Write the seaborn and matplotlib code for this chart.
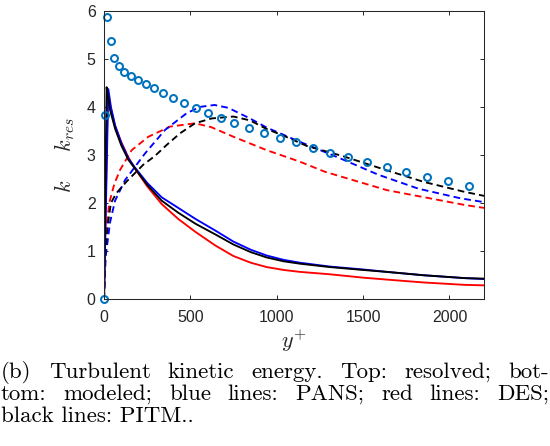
import numpy as np
import pandas as pd
import matplotlib
matplotlib.use("Agg")
import matplotlib.pyplot as plt
import seaborn as sns

# ---------------- data ----------------
# reference points (circles): resolved k
ref_x = [0, 6, 20, 39, 59, 87, 118, 154, 195, 242, 290, 343, 402, 465, 532, 603,
         676, 755, 838, 925, 1017, 1112, 1210, 1309, 1415, 1522, 1636, 1751, 1869,
         1989, 2113]
ref_y = [0.0, 3.83, 5.86, 5.36, 5.01, 4.84, 4.73, 4.64, 4.56, 4.48, 4.39, 4.28, 4.19,
         4.09, 3.98, 3.87, 3.77, 3.67, 3.56, 3.46, 3.35, 3.26, 3.15, 3.04, 2.95, 2.85,
         2.75, 2.65, 2.55, 2.45, 2.35]

# resolved (dashed)
des_res_x = [0, 5, 15, 30, 60, 93, 160, 257, 382, 527, 620, 749, 942, 1135, 1280,
             1637, 2090, 2200]
des_res_y = [0.0, 1.0, 1.51, 2.0, 2.4, 2.69, 3.10, 3.38, 3.59, 3.66, 3.58, 3.38, 3.10,
             2.86, 2.65, 2.27, 1.96, 1.90]

pans_res_x = [0, 10, 35, 64, 122, 237, 353, 479, 556, 640, 720, 845, 942, 1110, 1300,
              1374, 1588, 1820, 2063, 2200]
pans_res_y = [0.0, 0.9, 1.6, 2.05, 2.48, 3.03, 3.52, 3.87, 4.0, 4.04, 3.98, 3.76, 3.57,
              3.31, 3.03, 2.92, 2.59, 2.30, 2.10, 2.02]

pitm_res_x = [0, 8, 20, 40, 70, 131, 228, 295, 363, 440, 527, 623, 749, 845, 942, 1040,
              1173, 1389, 1621, 1852, 2080, 2200]
pitm_res_y = [0.0, 1.0, 1.5, 2.0, 2.2, 2.45, 2.80, 2.98, 3.21, 3.45, 3.66, 3.76, 3.80,
              3.72, 3.54, 3.40, 3.19, 2.97, 2.70, 2.44, 2.24, 2.15]

# modeled (solid)
des_mod_x = [0, 22, 40, 64, 100, 141, 179, 250, 334, 430, 530, 644, 749, 850, 942, 1040,
             1135, 1308, 1500, 1637, 1850, 2090, 2200]
des_mod_y = [0.0, 4.33, 3.95, 3.6, 3.27, 2.95, 2.72, 2.35, 1.98, 1.67, 1.40, 1.12, 0.90,
             0.76, 0.67, 0.61, 0.57, 0.52, 0.45, 0.41, 0.35, 0.30, 0.29]

pans_mod_x = [0, 25, 40, 64, 100, 141, 179, 250, 334, 430, 530, 644, 749, 850, 942, 1040,
              1135, 1308, 1500, 1637, 1850, 2090, 2200]
pans_mod_y = [0.0, 4.37, 4.0, 3.62, 3.25, 2.93, 2.74, 2.42, 2.12, 1.90, 1.67, 1.43, 1.20,
              1.03, 0.91, 0.82, 0.76, 0.68, 0.62, 0.57, 0.50, 0.44, 0.42]

pitm_mod_x = [0, 15, 25, 35, 64, 100, 141, 179, 250, 334, 430, 530, 644, 749, 850, 942,
              1040, 1135, 1308, 1500, 1637, 1850, 2090, 2200]
pitm_mod_y = [0.0, 4.41, 4.2, 3.94, 3.55, 3.2, 2.90, 2.72, 2.38, 2.05, 1.80, 1.57, 1.35,
              1.14, 0.98, 0.87, 0.79, 0.74, 0.67, 0.61, 0.57, 0.50, 0.44, 0.43]

x_ticks = [0, 500, 1000, 1500, 2000]
y_ticks = [0, 1, 2, 3, 4, 5, 6]

caption = ["(b) Turbulent kinetic energy.  Top: resolved; bot-",
           "tom: modeled; blue lines: PANS; red lines: DES;",
           "black lines: PITM.."]

# ---------------- style ----------------
sns.set_style("ticks")
plt.rcParams["font.family"] = ["Liberation Sans", "DejaVu Sans"]
plt.rcParams["mathtext.fontset"] = "cm"

W, H = 550, 446
fig = plt.figure(figsize=(W / 100, H / 100), dpi=100)
ax = fig.add_axes([104 / W, 1 - 299.3 / H, 380 / W, 288.6 / H])

lw = 1.35
dash = (0, (3.6, 2.2))
for xs, ys, c in [(des_res_x, des_res_y, "#ff0000"),
                  (pans_res_x, pans_res_y, "#0000ff"),
                  (pitm_res_x, pitm_res_y, "#000000")]:
    sns.lineplot(x=xs, y=ys, ax=ax, color=c, lw=lw, linestyle=dash,
                 sort=False, estimator=None)
for xs, ys, c in [(des_mod_x, des_mod_y, "#ff0000"),
                  (pans_mod_x, pans_mod_y, "#0000ff"),
                  (pitm_mod_x, pitm_mod_y, "#000000")]:
    sns.lineplot(x=xs, y=ys, ax=ax, color=c, lw=lw, sort=False, estimator=None)

sns.lineplot(x=ref_x, y=ref_y, ax=ax, linestyle="none", marker="o",
             markersize=5.0, markerfacecolor="none", markeredgecolor="#0072bd",
             markeredgewidth=1.45, sort=False, estimator=None, clip_on=False)

ax.set_xlim(0, 2200)
ax.set_ylim(0, 6)
ax.set_xticks(x_ticks)
ax.set_yticks(y_ticks)
ax.tick_params(direction="in", length=3, width=0.7, colors="#262626",
               labelsize=11.5, top=True, right=True, pad=6)
ax.tick_params(axis="x", pad=8)
for s in ax.spines.values():
    s.set_color("#262626")
    s.set_linewidth(0.75)

ax.set_xlabel(r"$y^{+}$", fontsize=16, labelpad=2)
ax.set_ylabel(r"$k\quad\;\; k_{res}$", fontsize=16, rotation=90,
              rotation_mode="default", ha="center", va="center")
ax.yaxis.set_label_coords((65 - 104) / 380, (299.3 - 155) / 288.6)

# ---------------- justified caption ----------------
cap_font = dict(family="cmr10", fontsize=16.5, color="black")
fig.canvas.draw()
renderer = fig.canvas.get_renderer()
baselines = [378, 400, 422]
x0, x1 = 1, 549
for i, line in enumerate(caption):
    yb = 1 - baselines[i] / H
    words = line.split()
    if i == len(caption) - 1:
        fig.text(x0 / W, yb, line, va="baseline", ha="left", **cap_font)
        continue
    widths = []
    for w in words:
        t = fig.text(0, 0, w, **cap_font)
        widths.append(t.get_window_extent(renderer).width)
        t.remove()
    gap = (x1 - x0 - sum(widths)) / (len(words) - 1)
    xp = x0
    for w, wd in zip(words, widths):
        fig.text(xp / W, yb, w, va="baseline", ha="left", **cap_font)
        xp += wd + gap

fig.savefig("out.png", dpi=100)
